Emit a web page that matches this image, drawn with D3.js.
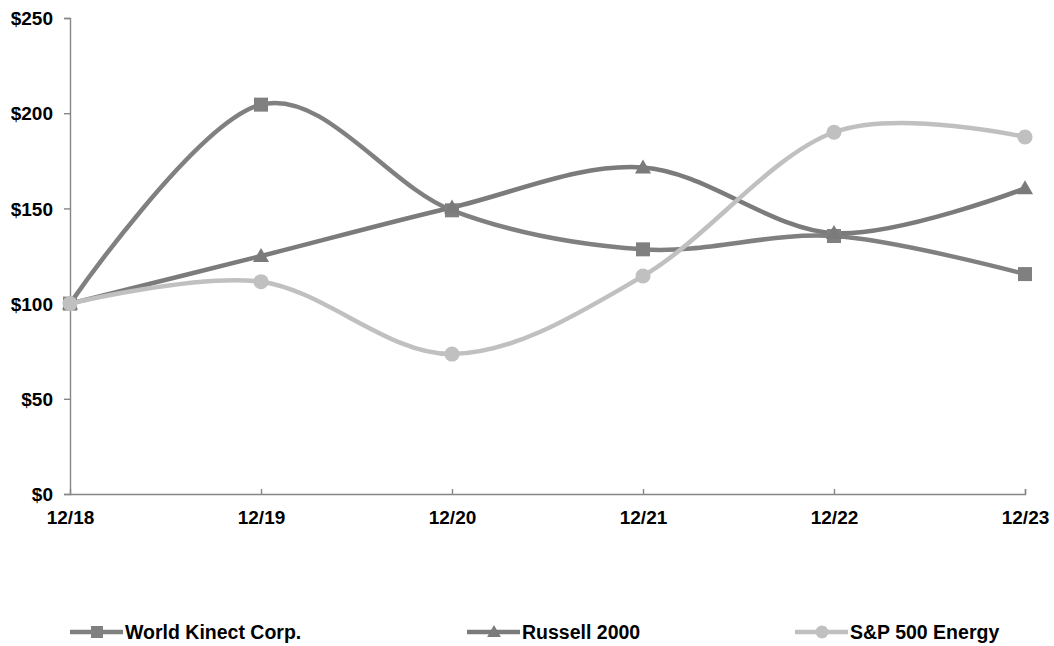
<!DOCTYPE html>
<html>
<head>
<meta charset="utf-8">
<script src="https://cdn.jsdelivr.net/npm/d3@7"></script>
<style>
  body { margin: 0; background: #fff; }
  text { font-family: "Liberation Sans", Arial, sans-serif; font-weight: bold; fill: #000; }
</style>
</head>
<body>
<svg width="1054" height="646"></svg>
<script>
// categories and series
const years = ['12/18', '12/19', '12/20', '12/21', '12/22', '12/23'];
const worldKinect = [100, 204.5, 149, 128.5, 135.5, 115.5];
const russell2000 = [100, 125, 150.5, 171.5, 137, 160.5];
const spEnergy = [100, 111.5, 73.5, 114.5, 190, 187.5];
const yTicks = [0, 50, 100, 150, 200, 250];

const series = [
    { name: 'World Kinect Corp.', values: worldKinect, color: '#808080', marker: 'square' },
    { name: 'Russell 2000', values: russell2000, color: '#7b7b7b', marker: 'triangle' },
    { name: 'S&P 500 Energy', values: spEnergy, color: '#c0c0c0', marker: 'circle' },
];

const svg = d3.select('svg');
const plotLeft = 70;
const plotRight = 1025;
const plotTop = 18;
const plotBottom = 494;

const x = d3.scalePoint().domain(years).range([plotLeft, plotRight]);
const y = d3.scaleLinear().domain([0, 250]).range([plotBottom, plotTop]);

// axes
const yAxis = svg.append('g')
    .attr('transform', `translate(${plotLeft},0)`)
    .call(d3.axisLeft(y).tickValues(yTicks).tickSize(6).tickPadding(11).tickFormat(d => `$${d}`));
const xAxis = svg.append('g')
    .attr('transform', `translate(0,${plotBottom})`)
    .call(d3.axisBottom(x).tickSize(-5).tickPadding(15));

[yAxis, xAxis].forEach((g) => {
    g.select('.domain').attr('stroke', '#868686').attr('stroke-width', 1.4);
    g.selectAll('.tick line').attr('stroke', '#868686').attr('stroke-width', 1.4);
    g.selectAll('.tick text').style('font-size', '19px')
        .style('font-family', '"Liberation Sans", Arial, sans-serif').style('font-weight', 'bold');
});
xAxis.selectAll('.tick text').attr('dy', '0.35em').attr('y', 23);
yAxis.selectAll('.tick text').attr('dy', '0.35em');
xAxis.selectAll('.tick').filter((d, i) => i === 0).select('line').remove();

const line = d3.line()
    .x((d, i) => x(years[i]))
    .y(d => y(d))
    .curve(d3.curveCardinal.tension(0));

function drawMarker(g, type, cx, cy, color, size) {
    const h = size / 2;
    if (type === 'square') {
        g.append('rect').attr('x', cx - h).attr('y', cy - h).attr('width', size).attr('height', size).attr('fill', color);
    } else if (type === 'triangle') {
        g.append('path').attr('d', `M${cx},${cy - h * 1.15}L${cx + h * 1.15},${cy + h * 0.85}L${cx - h * 1.15},${cy + h * 0.85}Z`).attr('fill', color);
    } else {
        g.append('circle').attr('cx', cx).attr('cy', cy).attr('r', h * 1.08).attr('fill', color);
    }
}

const plot = svg.append('g');
series.forEach((s) => {
    plot.append('path')
        .attr('d', line(s.values))
        .attr('fill', 'none')
        .attr('stroke', s.color)
        .attr('stroke-width', 4.5);
});
series.forEach((s) => {
    s.values.forEach((v, i) => drawMarker(plot, s.marker, x(years[i]), y(v), s.color, 14));
});

// legend
const legendX = [70, 467, 795];
const legend = svg.append('g');
series.forEach((s, i) => {
    const lx = legendX[i];
    const ly = 632;
    legend.append('line')
        .attr('x1', lx).attr('x2', lx + 53).attr('y1', ly).attr('y2', ly)
        .attr('stroke', s.color).attr('stroke-width', 4.5);
    drawMarker(legend, s.marker, lx + 27, ly, s.color, 12);
    legend.append('text')
        .attr('x', lx + 55).attr('y', ly)
        .attr('dy', '0.35em')
        .style('font-size', '19.5px')
        .text(s.name);
});
</script>
</body>
</html>
